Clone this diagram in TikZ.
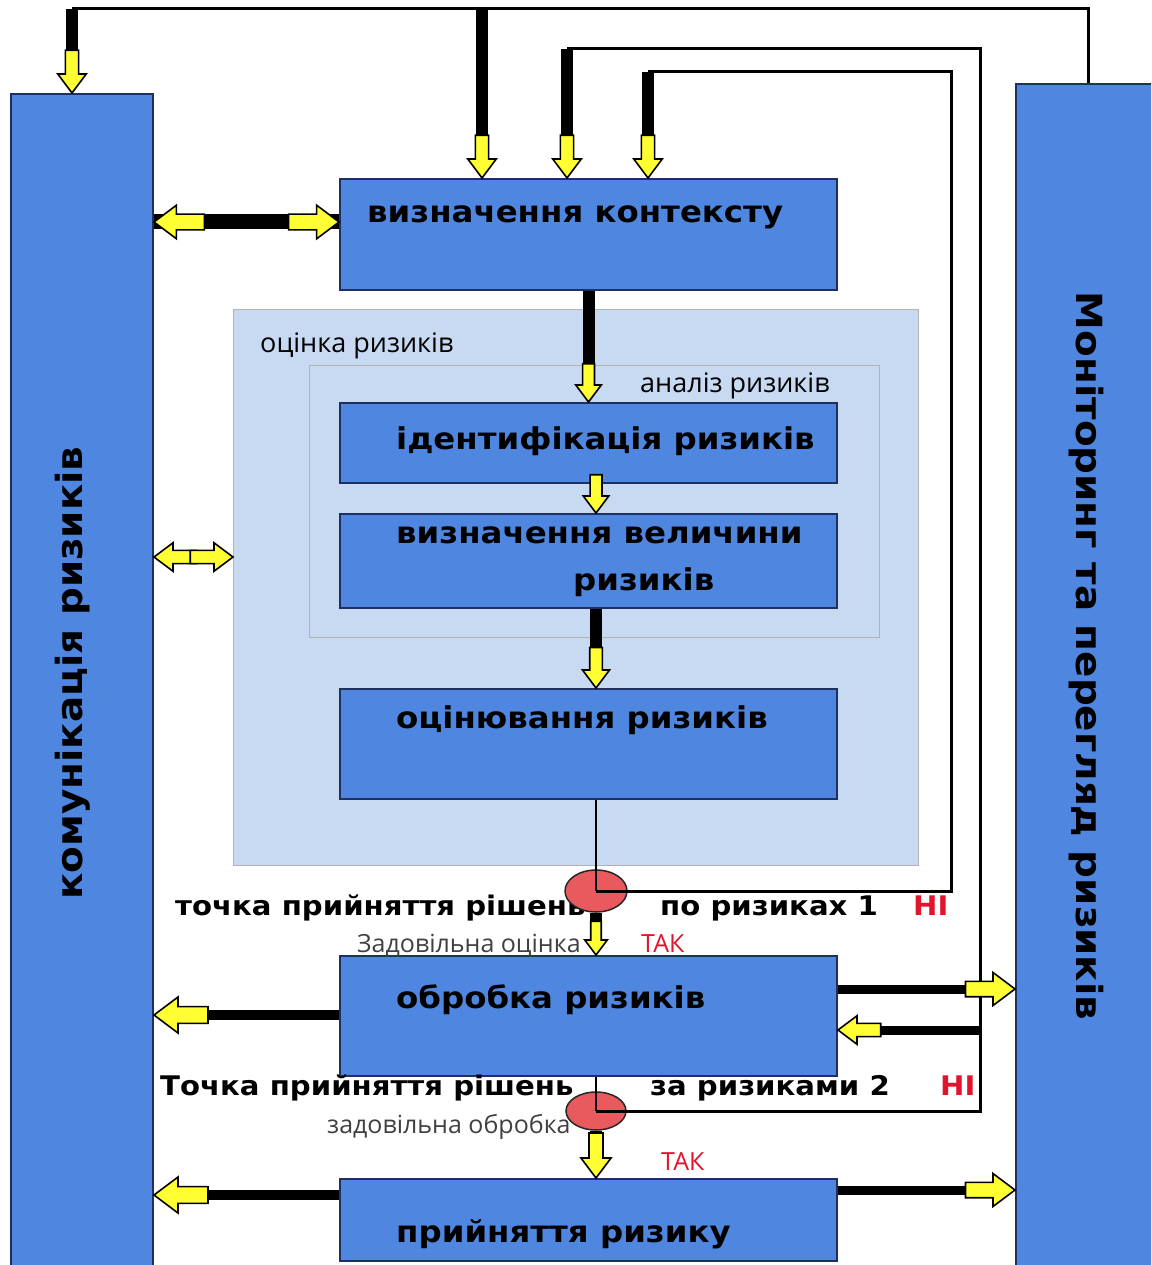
\documentclass[tikz,border=0pt]{standalone}
\usepackage{fontspec}
\setmainfont{DejaVu Sans}[FakeStretch=1.08]
\newfontfamily\lblfont{Open Sans}
\usetikzlibrary{calc,shapes.geometric}
\definecolor{boxblue}{HTML}{4F87E0}
\definecolor{boxedge}{HTML}{1F2F5F}
\definecolor{zoneblue}{HTML}{C7DAF2}
\definecolor{arryellow}{HTML}{FFFF33}
\definecolor{nored}{HTML}{E0142A}
\definecolor{dpred}{HTML}{E85A5E}
\definecolor{graytext}{HTML}{404040}
\tikzset{
  box/.style={draw=boxedge, line width=2pt, fill=boxblue, inner sep=0pt, anchor=north west},
  zone/.style={draw=gray!60, line width=0.8pt, fill=zoneblue, inner sep=0pt, anchor=north west},
  thickln/.style={draw=black, line width=12pt},
  thinln/.style={draw=black, line width=3pt},
  dp/.style={ellipse, draw=black!85, line width=1.5pt, fill=dpred, inner sep=0pt},
  yarr/.pic={\draw[black, line width=1.6pt, fill=arryellow, line join=miter]
      (0,0) -- (-20,15) -- (-20,7) -- (-45,7) -- (-45,-7) -- (-20,-7) -- (-20,-15) -- cycle;},
  btxt/.style={font=\bfseries\fontsize{30}{35}\selectfont, anchor=base west, inner sep=0pt},
  dtxt/.style={font=\bfseries\fontsize{27}{32}\selectfont, anchor=base west, inner sep=0pt},
  ltxt/.style={font=\lblfont\fontsize{27}{32}\selectfont, anchor=base west, inner sep=0pt},
  stxt/.style={font=\lblfont\fontsize{25}{30}\selectfont, anchor=base west, inner sep=0pt, text=graytext},
  rtxt/.style={font=\lblfont\fontsize{25}{30}\selectfont, anchor=base west, inner sep=0pt, text=nored},
  vtxt/.style={font=\bfseries\fontsize{36}{42}\selectfont, inner sep=0pt},
}
\begin{document}
\begin{tikzpicture}[x=1pt,y=-1pt]
\useasboundingbox (0,0) rectangle (1151,1265);
\clip (0,0) rectangle (1151,1265);
% zones
\node[zone, minimum width=685pt, minimum height=556pt] (assess) at (233,309) {};
\node[zone, minimum width=570pt, minimum height=272pt] (anal) at (309,365) {};
% boxes
\node[box, minimum width=142pt, minimum height=1185pt] (comm) at (10,93) {};
\node[box, minimum width=145pt, minimum height=1195pt] (mon) at (1015,83) {};
\node[box, minimum width=497pt, minimum height=111pt] (ctx) at (339,178) {};
\node[box, minimum width=497pt, minimum height=80pt] (ident) at (339,402) {};
\node[box, minimum width=497pt, minimum height=94pt] (magn) at (339,513) {};
\node[box, minimum width=497pt, minimum height=110pt] (evalb) at (339,688) {};
\node[box, minimum width=497pt, minimum height=120pt] (treat) at (339,955) {};
\node[box, minimum width=497pt, minimum height=82pt] (accept) at (339,1178) {};

% texts
\node[vtxt, rotate=90] (commtxt) at (73,673) {комунікація ризиків};
\node[vtxt, rotate=-90] (montxt) at (1086,656) {Моніторинг та перегляд ризиків};
\node[btxt] (ctxtxt) at (367,223) {визначення контексту};
\node[ltxt] (asstxt) at (260,352) {оцінка ризиків};
\node[ltxt] (analtxt) at (640,392) {аналіз ризиків};
\node[btxt] (identtxt) at (396,449) {ідентифікація ризиків};
\node[btxt] (magntxt1) at (396,543) {визначення величини};
\node[btxt] (magntxt2) at (573,590) {ризиків};
\node[btxt] (evaltxt) at (396,728) {оцінювання ризиків};
\node[btxt] (treattxt) at (396,1008) {обробка ризиків};
\node[btxt] (acctxt) at (396,1242) {прийняття ризику};
\node[dtxt] (d1a) at (175,915) {точка прийняття рішень};
\node[dtxt] (d1b) at (660,915) {по ризиках 1};
\node[dtxt, text=nored] (d1no) at (913,915) {НІ};
\node[stxt] (d1s) at (357,952) {Задовільна оцінка};
\node[rtxt] (d1yes) at (641,952) {ТАК};
\node[dtxt] (d2a) at (160,1095) {Точка прийняття рішень};
\node[dtxt] (d2b) at (650,1095) {за ризиками 2};
\node[dtxt, text=nored] (d2no) at (940,1095) {НІ};
\node[stxt] (d2s) at (327,1133) {задовільна обробка};
\node[rtxt] (d2yes) at (661,1170) {ТАК};

% decision points
\node[dp, minimum width=62pt, minimum height=42pt] (dp1) at (596,891) {};
\node[dp, minimum width=60pt, minimum height=38pt] (dp2) at (596,1111) {};

% routing coordinates
\coordinate (tl) at (72,9);
\coordinate (tr) at (mon.north |- tl);
\coordinate (inL) at ($(comm.north west)+(62,0)$);
\coordinate (in1) at ($(ctx.north west)+(143,0)$);
\coordinate (in2) at ($(ctx.north west)+(228,0)$);
\coordinate (in3) at ($(ctx.north west)+(309,0)$);
\coordinate (r2) at (980,49);
\coordinate (r3) at (951,72);

% top feedback lines
\draw[thinln] (mon.north) -- (tr) -- (tl);
\draw[thickln] (tl) -- ($(inL)+(0,-40)$);
\draw[thickln] (in1 |- tl) -- ($(in1)+(0,-40)$);
\draw[thinln] (dp2.center) -- (dp2.center -| r2) -- (r2) -- (in2 |- r2);
\draw[thickln] (in2 |- r2) -- ($(in2)+(0,-40)$);
\draw[thinln] (dp1.center) -- (dp1.center -| r3) -- (r3) -- (in3 |- r3);
\draw[thickln] (in3 |- r3) -- ($(in3)+(0,-40)$);
\pic[rotate=-90, scale=0.95] at (inL) {yarr};
\pic[rotate=-90, scale=0.95] at (in1) {yarr};
\pic[rotate=-90, scale=0.95] at (in2) {yarr};
\pic[rotate=-90, scale=0.95] at (in3) {yarr};

% context <-> communication
\coordinate (ctxL) at ($(ctx.north west)+(0,44)$);
\coordinate (commC) at (comm.east |- ctxL);
\draw[thickln, line width=15pt] (commC) -- (ctxL);
\pic[rotate=180, scale=1.12] at (commC) {yarr};
\pic[scale=1.12] at (ctxL) {yarr};

% assessment <-> communication
\coordinate (asL) at ($(assess.north west)+(0,248)$);
\coordinate (commA) at (comm.east |- asL);
\pic[rotate=180, scale=0.95] at (commA) {yarr};
\pic[scale=0.95] at (asL) {yarr};

% treatment / acceptance -> communication
\coordinate (trL) at ($(treat.north west)+(0,60)$);
\coordinate (commT) at (comm.east |- trL);
\draw[thickln, line width=10pt] (trL) -- ($(commT)+(50,0)$);
\pic[rotate=180, scale=1.2] at (commT) {yarr};
\coordinate (acL) at ($(accept.north west)+(0,17)$);
\coordinate (commX) at (comm.east |- acL);
\draw[thickln, line width=10pt] (acL) -- ($(commX)+(50,0)$);
\pic[rotate=180, scale=1.2] at (commX) {yarr};

% treatment / acceptance -> monitoring
\coordinate (trR) at ($(treat.north east)+(0,34)$);
\coordinate (monT) at (mon.west |- trR);
\draw[thickln, line width=9pt] (trR) -- ($(monT)+(-45,0)$);
\pic[scale=1.1] at (monT) {yarr};
\coordinate (acR) at ($(accept.north east)+(0,12)$);
\coordinate (monX) at (mon.west |- acR);
\draw[thickln, line width=9pt] (acR) -- ($(monX)+(-45,0)$);
\pic[scale=1.1] at (monX) {yarr};

% decision 2 feedback into treatment
\coordinate (trR2) at ($(treat.north east)+(0,75)$);
\draw[thickln, line width=9pt] (r2 |- trR2) -- ($(trR2)+(36,0)$);
\pic[rotate=180, scale=0.95] at (trR2) {yarr};

% main vertical flow
\draw[thickln] (ctx.south) -- ($(ident.north)+(0,-34)$);
\pic[rotate=-90, scale=0.85] at (ident.north) {yarr};
\coordinate (mt) at ($(magn.north west)+(257,0)$);
\pic[rotate=-90, scale=0.85] at (mt) {yarr};
\coordinate (mb) at ($(magn.south west)+(257,0)$);
\coordinate (et) at ($(evalb.north west)+(257,0)$);
\draw[thickln] (mb) -- ($(et)+(0,-36)$);
\pic[rotate=-90, scale=0.9] at (et) {yarr};

\draw[thinln, line width=2pt] (dp1 |- evalb.south) -- (dp1.center);
\draw[thickln] (dp1.south) -- ($(dp1 |- treat.north)+(0,-30)$);
\pic[rotate=-90, scale=0.75] at (dp1 |- treat.north) {yarr};

\draw[thinln, line width=2pt] (dp2 |- treat.south) -- (dp2.center);
\draw[thickln] (dp2.south) -- ($(dp2 |- accept.north)+(0,-42)$);
\pic[rotate=-90, scale=1.0] at (dp2 |- accept.north) {yarr};
\end{tikzpicture}
\end{document}
